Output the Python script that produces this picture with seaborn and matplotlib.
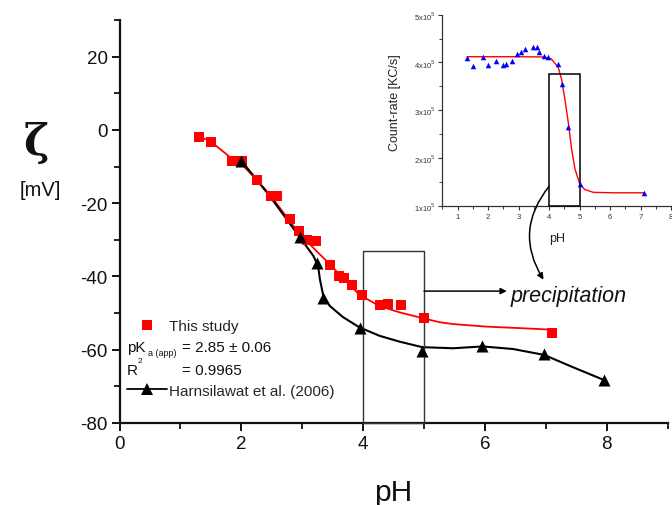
import numpy as np
import pandas as pd
import matplotlib
matplotlib.use("Agg")
import matplotlib.pyplot as plt
import seaborn as sns
from matplotlib.lines import Line2D
from matplotlib.patches import Rectangle, FancyArrowPatch
from matplotlib.ticker import MultipleLocator, FixedLocator, FuncFormatter

# ---------------- data ----------------
ph_study = [1.31, 1.50, 1.85, 2.01, 2.26, 2.48, 2.58, 2.80, 2.94, 3.08, 3.22,
            3.46, 3.60, 3.68, 3.82, 3.98, 4.28, 4.41, 4.62, 5.00, 7.10]
zeta_study = [-1.8, -3.2, -8.6, -8.6, -13.6, -18.1, -18.1, -24.3, -27.5, -30.0, -30.2,
              -36.8, -39.8, -40.5, -42.2, -45.0, -47.8, -47.5, -47.7, -51.4, -55.5]

fit_ph = [1.31, 1.50, 1.85, 2.00, 2.26, 2.50, 2.79, 2.96, 3.20, 3.45, 3.70, 3.94,
          4.27, 4.60, 4.98, 5.26, 5.48, 6.03, 6.57, 7.07]
fit_zeta = [-1.8, -3.2, -7.9, -9.3, -13.7, -18.3, -24.8, -28.4, -32.5, -36.6, -41.0, -45.0,
            -48.1, -49.8, -51.4, -52.5, -53.0, -53.7, -54.1, -54.5]

ph_lit = [2.00, 2.96, 3.25, 3.34, 3.95, 4.97, 5.96, 6.97, 7.96]
zeta_lit = [-8.4, -29.3, -36.4, -45.9, -54.1, -60.3, -58.9, -61.2, -68.3]

lit_curve_ph = [2.00, 2.46, 2.96, 3.18, 3.26, 3.29, 3.34, 3.45, 3.67, 3.94, 4.27, 4.60,
                4.97, 5.48, 5.96, 6.46, 6.97, 7.45, 7.96]
lit_curve_zeta = [-8.4, -17.9, -29.3, -34.3, -37.0, -40.7, -44.8, -48.0, -51.1, -53.9, -56.2,
                  -57.8, -59.3, -59.6, -59.1, -59.8, -61.4, -64.8, -68.3]

count_rate = [4.09, 3.92, 4.12, 3.94, 4.04, 3.95, 3.97, 4.04, 4.17, 4.22, 4.28,
              4.33, 4.33, 4.22, 4.13, 4.11, 3.97, 3.55, 2.64, 1.45, 1.26]  # x 1e5
count_fit_ph = [1.32, 2.0, 3.0, 3.8, 4.08, 4.30, 4.41, 4.52, 4.63, 4.74, 4.85, 5.01,
                5.17, 5.45, 6.10, 7.12]
count_fit = [4.12, 4.12, 4.12, 4.115, 4.07, 3.90, 3.65, 3.23, 2.75, 2.19, 1.77, 1.45,
             1.34, 1.28, 1.27, 1.27]  # x 1e5

x_ticks = [0, 2, 4, 6, 8]
y_ticks = [-80, -60, -40, -20, 0, 20]
inset_x_ticks = [1, 2, 3, 4, 5, 6, 7, 8]
inset_y_ticks = [1, 2, 3, 4, 5]

study_label = "This study"
lit_label = "Harnsilawat et al. (2006)"

df_study = pd.DataFrame({"pH": ph_study, "zeta": zeta_study,
                         "count": np.array(count_rate) * 1e5})
df_fit = pd.DataFrame({"pH": fit_ph, "zeta": fit_zeta})
df_lit = pd.DataFrame({"pH": ph_lit, "zeta": zeta_lit})
df_lit_curve = pd.DataFrame({"pH": lit_curve_ph, "zeta": lit_curve_zeta})
df_count_fit = pd.DataFrame({"pH": count_fit_ph, "count": np.array(count_fit) * 1e5})

# ---------------- style ----------------
sns.set_theme(style="ticks")
plt.rcParams["font.family"] = ["Liberation Sans", "DejaVu Sans"]
plt.rcParams["axes.unicode_minus"] = False

W, H = 672, 506
fig = plt.figure(figsize=(W / 100, H / 100), dpi=100)
fig.patch.set_facecolor("white")

def fx(px):
    return px / W

def fy(py):
    return 1 - py / H

# main axes
ax = fig.add_axes([fx(119.5), fy(424), (667.6 - 119.5) / W, (424 - 21) / H])
ax.set_facecolor("white")

sns.lineplot(data=df_fit, x="pH", y="zeta", ax=ax, color="#ff0000", lw=1.3,
             sort=False, estimator=None, legend=False)
sns.lineplot(data=df_lit_curve, x="pH", y="zeta", ax=ax, color="black", lw=1.5,
             sort=False, estimator=None, legend=False)
sns.scatterplot(data=df_study, x="pH", y="zeta", ax=ax, marker="s", s=48,
                color="#ff0000", edgecolor="#ff0000", linewidth=0, legend=False, zorder=5)
sns.scatterplot(data=df_lit, x="pH", y="zeta", ax=ax, marker="^", s=75,
                color="black", edgecolor="black", linewidth=0, legend=False, zorder=5)

ax.set_xlim(0, 9)
ax.set_ylim(-80, 30)
ax.xaxis.set_major_locator(FixedLocator(x_ticks))
ax.xaxis.set_minor_locator(MultipleLocator(1))
ax.yaxis.set_major_locator(FixedLocator(y_ticks))
ax.yaxis.set_minor_locator(MultipleLocator(10))
for s in ["top", "right"]:
    ax.spines[s].set_visible(False)
for s in ["left", "bottom"]:
    ax.spines[s].set_linewidth(1.6)
    ax.spines[s].set_color("#111111")
ax.tick_params(which="major", direction="out", length=5.5, width=1.4,
               labelsize=13.5, colors="#111111", pad=3)
ax.tick_params(which="minor", direction="out", length=4, width=1.3, colors="#111111")
ax.set_xlabel("")
ax.set_ylabel("")
ax.grid(False)

# precipitation box and arrow
ax.add_patch(Rectangle((4, -80), 1, 47.0, fill=False, edgecolor="#333333", lw=1.0,
                       zorder=3, clip_on=False))
ax.annotate("", xy=(6.36, -44.0), xytext=(5.0, -44.0),
            arrowprops=dict(arrowstyle="-|>", color="black", lw=1.1,
                            mutation_scale=9, shrinkA=0, shrinkB=0))
ax.text(6.42, -46.6, "precipitation", fontsize=15.5, style="italic",
        va="baseline", ha="left", color="#111111")

# axis labels
fig.text(fx(36), fy(143), "ζ", fontsize=31, fontweight="bold", family=["DejaVu Serif"],
         ha="center", va="center", color="#111111")
fig.text(fx(40), fy(190), "[mV]", fontsize=14.5, ha="center", va="center", color="#111111")
fig.text(fx(393), fy(501.5), "pH", fontsize=21.5, ha="center", va="baseline", color="#111111")

# legend
h1 = Line2D([], [], marker="s", color="#ff0000", linestyle="none", markersize=7,
            markeredgewidth=0)
h2 = Line2D([], [], marker="^", color="black", linestyle="-", lw=1.3, markersize=9,
            markeredgewidth=0)
ax.legend(handles=[h1, h2], labels=[study_label, lit_label], loc="upper left",
          bbox_to_anchor=(fx(127), fy(320)), bbox_transform=fig.transFigure,
          frameon=False, fontsize=11, handlelength=2.6, handletextpad=0.15,
          labelspacing=3.32, borderpad=0, borderaxespad=0)

fig.text(fx(127), fy(351.7), "pK", fontsize=11, va="baseline", color="#111111")
fig.text(fx(147.5), fy(356), "a (app)", fontsize=6.5, va="baseline", color="#111111")
fig.text(fx(181.7), fy(351.7), "= 2.85 ± 0.06", fontsize=11, va="baseline", color="#111111")
fig.text(fx(127), fy(375), "R", fontsize=11, va="baseline", color="#111111")
fig.text(fx(137.5), fy(363), "2", fontsize=6, va="baseline", color="#111111")
fig.text(fx(181.7), fy(375), "= 0.9965", fontsize=11, va="baseline", color="#111111")

# ---------------- inset ----------------
ins = fig.add_axes([fx(442.3), fy(206.7), (671 - 442.3) / W, (206.7 - 15.7) / H])
ins.set_facecolor("none")
sns.lineplot(data=df_count_fit, x="pH", y="count", ax=ins, color="#ff0000", lw=1.0,
             sort=False, estimator=None, legend=False)
sns.scatterplot(data=df_study, x="pH", y="count", ax=ins, marker="^", s=16,
                color="#0000ff", edgecolor="#0000ff", linewidth=0, legend=False, zorder=5)
ins.set_xlim(0.5, 8.0)
ins.set_ylim(1e5, 5e5)
ins.xaxis.set_major_locator(FixedLocator(inset_x_ticks))
ins.xaxis.set_minor_locator(MultipleLocator(0.5))
ins.yaxis.set_major_locator(FixedLocator([v * 1e5 for v in inset_y_ticks]))
ins.yaxis.set_minor_locator(MultipleLocator(0.5e5))
ins.yaxis.set_major_formatter(FuncFormatter(lambda v, p: "%dx10$^{5}$" % round(v / 1e5)))
for s in ["top", "right"]:
    ins.spines[s].set_visible(False)
for s in ["left", "bottom"]:
    ins.spines[s].set_linewidth(0.9)
    ins.spines[s].set_color("#333333")
ins.tick_params(which="major", direction="out", length=3, width=0.8,
                labelsize=5.5, colors="#333333", pad=2)
ins.tick_params(which="minor", direction="out", length=2, width=0.7, colors="#333333")
ins.set_xlabel("")
ins.set_ylabel("")
ins.grid(False)
ins.add_patch(Rectangle((4, 1.0e5), 1, 2.76e5, fill=False, edgecolor="black", lw=1.1,
                        zorder=4, clip_on=False))

fig.text(fx(395), fy(103), "Count-rate [KC/s]", fontsize=9, rotation=90,
         ha="center", va="center", color="#222222")
fig.text(fx(556.7), fy(239.3), "pH", fontsize=9, ha="center", va="center", color="#222222")

# curved arrow from inset box to the label
arr = FancyArrowPatch((fx(551), fy(185)), (fx(545), fy(283)), transform=fig.transFigure,
                      connectionstyle="arc3,rad=0.37", arrowstyle="-|>",
                      mutation_scale=9, color="black", lw=1.1)
fig.patches.append(arr)

fig.savefig("out.png", dpi=100, facecolor="white")
